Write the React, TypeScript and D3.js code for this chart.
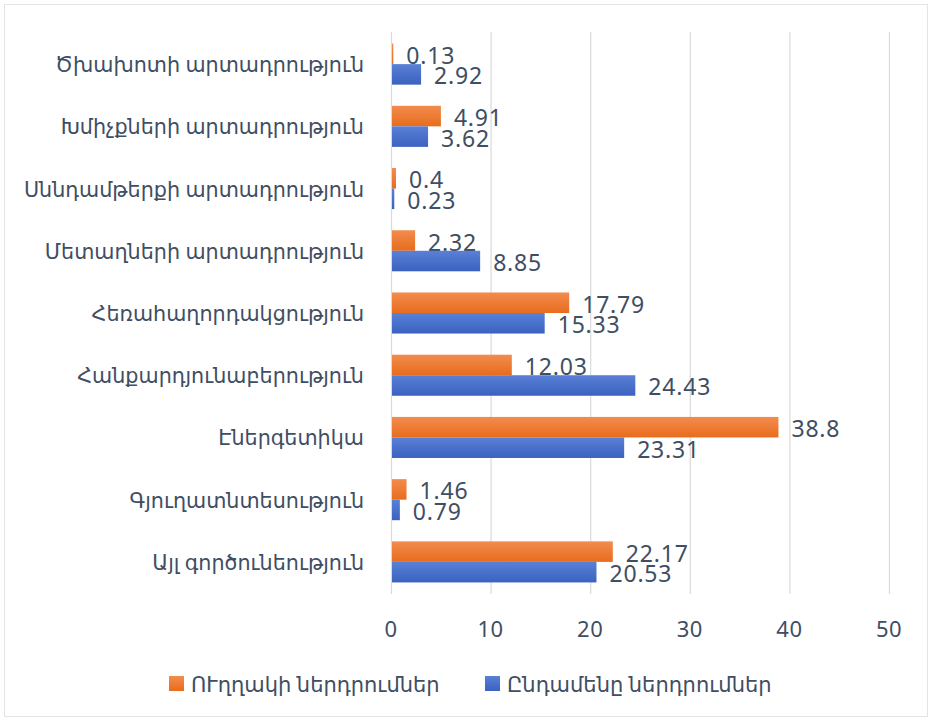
import React, { useRef, useEffect } from 'react'
import * as d3 from 'd3'

const categories = [
  'Ծխախոտի արտադրություն',
  'Խմիչքների արտադրություն',
  'Սննդամթերքի արտադրություն',
  'Մետաղների արտադրություն',
  'Հեռահաղորդակցություն',
  'Հանքարդյունաբերություն',
  'Էներգետիկա',
  'Գյուղատնտեսություն',
  'Այլ գործունեություն',
]
const directValues = [0.13, 4.91, 0.4, 2.32, 17.79, 12.03, 38.8, 1.46, 22.17]
const totalValues = [2.92, 3.62, 0.23, 8.85, 15.33, 24.43, 23.31, 0.79, 20.53]
const xTicks = [0, 10, 20, 30, 40, 50]
const seriesNames = ['ՈՒղղակի ներդրումներ', 'Ընդամենը ներդրումներ']

const W = 934
const H = 720
const textColor = '#404e63'
const fontFamily = '"Noto Sans", "DejaVu Sans", sans-serif'

export default function App() {
  const svgRef = useRef<SVGSVGElement>(null)

  useEffect(() => {
    const svg = d3.select(svgRef.current)
    svg.selectAll('*').remove()

    const x = d3.scaleLinear().domain([0, 50]).range([391, 889])
    const y = d3.scaleBand<string>().domain(categories).range([33, 593]).paddingInner(0.34).paddingOuter(0.17)
    const sub = d3.scaleBand<number>().domain([0, 1]).range([0, y.bandwidth()])

    const defs = svg.append('defs')
    const grads = [
      { id: 'g-orange', top: '#f28c4f', bottom: '#e86c1c' },
      { id: 'g-blue', top: '#5a80d6', bottom: '#3a62bf' },
    ]
    grads.forEach(g => {
      const lg = defs.append('linearGradient').attr('id', g.id).attr('x1', 0).attr('y1', 0).attr('x2', 0).attr('y2', 1)
      lg.append('stop').attr('offset', '0%').attr('stop-color', g.top)
      lg.append('stop').attr('offset', '100%').attr('stop-color', g.bottom)
    })

    // frame
    svg.append('rect')
      .attr('x', 4.5).attr('y', 4.5).attr('width', 923).attr('height', 712)
      .attr('fill', 'white').attr('stroke', '#e4e4e4')

    // gridlines
    svg.append('g').selectAll('line')
      .data(xTicks)
      .join('line')
      .attr('x1', d => x(d) + 0.5).attr('x2', d => x(d) + 0.5)
      .attr('y1', 32).attr('y2', 594)
      .attr('stroke', '#dadada').attr('stroke-width', 1.2)

    // tick labels
    svg.append('g').selectAll('text')
      .data(xTicks)
      .join('text')
      .attr('x', d => x(d)).attr('y', 628)
      .attr('text-anchor', 'middle').attr('dominant-baseline', 'central')
      .attr('fill', textColor).attr('font-size', 22).attr('letter-spacing', 0.5).attr('font-family', fontFamily)
      .text(d => d)

    // category labels
    svg.append('g').selectAll('text')
      .data(categories)
      .join('text')
      .attr('x', 364).attr('y', d => y(d)! + y.bandwidth() / 2)
      .attr('text-anchor', 'end').attr('dominant-baseline', 'central')
      .attr('fill', textColor).attr('font-size', 20.7).attr('font-family', fontFamily)
      .text(d => d)

    const series = [directValues, totalValues]
    const fills = ['url(#g-orange)', 'url(#g-blue)']
    series.forEach((vals, si) => {
      const g = svg.append('g')
      g.selectAll('rect')
        .data(vals)
        .join('rect')
        .attr('x', x(0) + 1)
        .attr('y', (d, i) => y(categories[i])! + sub(si)!)
        .attr('width', d => x(d) - x(0))
        .attr('height', sub.bandwidth())
        .attr('fill', fills[si])
      g.selectAll('text')
        .data(vals)
        .join('text')
        .attr('x', d => x(d) + 14)
        .attr('y', (d, i) => y(categories[i])! + sub(si)! + sub.bandwidth() / 2 + 1)
        .attr('dominant-baseline', 'central')
        .attr('fill', textColor).attr('font-size', 23).attr('letter-spacing', 0.8).attr('font-family', fontFamily)
        .text(d => d)
    })

    // legend
    const legend = [
      { name: seriesNames[0], fill: 'url(#g-orange)', x: 169 },
      { name: seriesNames[1], fill: 'url(#g-blue)', x: 485 },
    ]
    legend.forEach(l => {
      svg.append('rect').attr('x', l.x).attr('y', 676).attr('width', 15).attr('height', 15).attr('fill', l.fill)
      svg.append('text')
        .attr('x', l.x + 22).attr('y', 684)
        .attr('dominant-baseline', 'central')
        .attr('fill', textColor).attr('font-size', 21).attr('font-family', fontFamily)
        .text(l.name)
    })
  }, [])

  return (
    <svg ref={svgRef} width={W} height={H} style={{ position: 'absolute', left: 0, top: 0, background: 'white' }} />
  )
}
